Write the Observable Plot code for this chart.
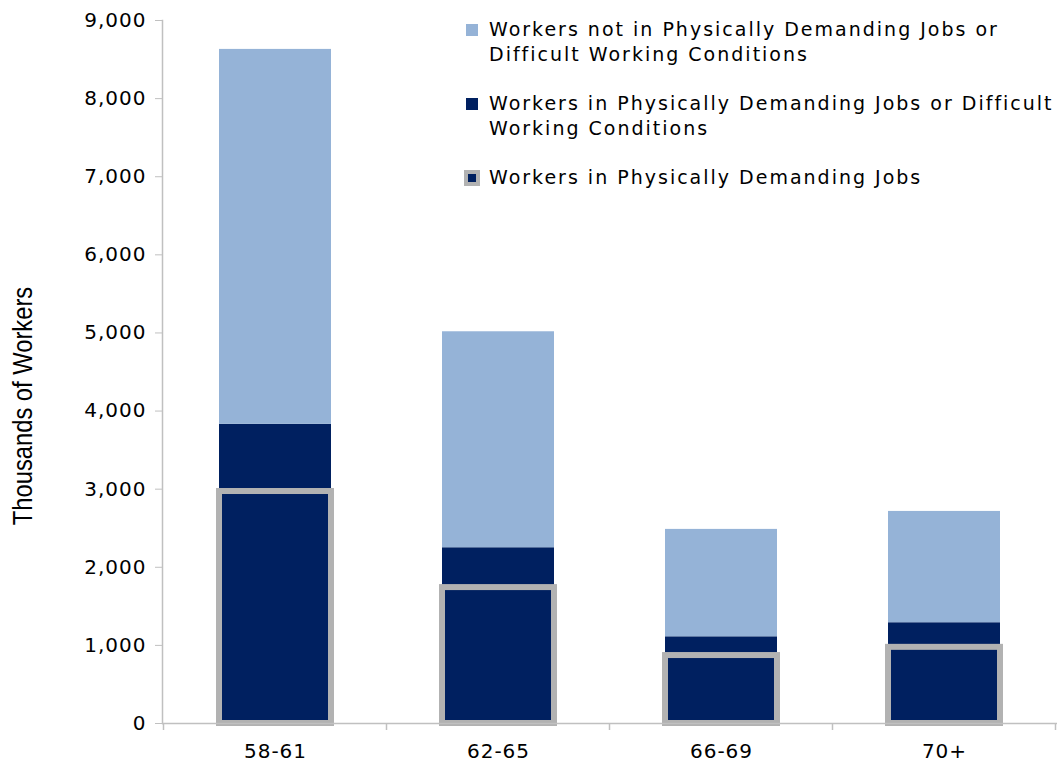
<!DOCTYPE html>
<html>
<head>
<meta charset="utf-8">
<script src="https://cdn.jsdelivr.net/npm/d3@7"></script>
<script src="https://cdn.jsdelivr.net/npm/@observablehq/plot@0.6"></script>
<style>
  body { margin: 0; background: #fff; }
  #wrap { position: relative; width: 1057px; height: 765px; overflow: hidden; }
  #legend { position: absolute; left: 466px; top: 17px; font-family: "DejaVu Sans", Verdana, sans-serif; font-size: 19px; letter-spacing: 2px; color: #000; line-height: 25px; white-space: nowrap; }
  .item { position: relative; padding-left: 23px; margin-bottom: 24px; }
  .sw { position: absolute; left: 0; top: 7px; width: 12px; height: 12px; }
  .sw.outline { left: -2px; top: 5px; width: 8px; height: 8px; border: 4px solid #b2b2b2; }
</style>
</head>
<body>
<div id="wrap"><div id="legend"></div></div>
<script>
const categories = ["58-61", "62-65", "66-69", "70+"];
const notDemanding = [4800, 2765, 1375, 1425];
const demandingOrDifficult = [3830, 2250, 1110, 1290];
const physicallyDemanding = [2970, 1740, 870, 975];
const seriesNames = [
  "Workers not in Physically Demanding Jobs or Difficult Working Conditions",
  "Workers in Physically Demanding Jobs or Difficult Working Conditions",
  "Workers in Physically Demanding Jobs"
];
const legendLines = [
  ["Workers not in Physically Demanding Jobs or", "Difficult Working Conditions"],
  ["Workers in Physically Demanding Jobs or Difficult", "Working Conditions"],
  ["Workers in Physically Demanding Jobs"]
];
const yTicks = [0, 1000, 2000, 3000, 4000, 5000, 6000, 7000, 8000, 9000];
const yTitle = "Thousands of Workers";
const colors = ["#95b3d7", "#002060", "#002060"];

const stacked = [];
categories.forEach((c, i) => {
  stacked.push({cat: c, series: seriesNames[1], value: demandingOrDifficult[i]});
  stacked.push({cat: c, series: seriesNames[0], value: notDemanding[i]});
});
const phys = categories.map((c, i) => ({cat: c, value: physicallyDemanding[i]}));

const bandTicks = (index, scales, values, dims) => {
  const x = scales.x;
  const step = x.step(), bw = x.bandwidth();
  const g = d3.create("svg:g");
  const xs = categories.map(c => x(c) - (step - bw) / 2);
  xs.push(x(categories[categories.length - 1]) + bw + (step - bw) / 2);
  const y0 = dims.height - dims.marginBottom;
  for (const px of xs) {
    g.append("line").attr("x1", px).attr("x2", px).attr("y1", y0).attr("y2", y0 + 7)
      .attr("stroke", "#c0c0c0").attr("stroke-width", 1.5);
  }
  return g.node();
};

const chart = Plot.plot({
  width: 1057,
  height: 765,
  marginLeft: 162,
  marginRight: 0,
  marginTop: 20,
  marginBottom: 42,
  style: {fontFamily: "DejaVu Sans, Verdana, sans-serif", fontSize: "20px", letterSpacing: "1px", color: "#000", background: "#fff"},
  x: {domain: categories, paddingInner: 0.5, paddingOuter: 0.25, label: null},
  y: {domain: [0, 9000], label: null},
  color: {domain: seriesNames.slice(0, 2), range: colors.slice(0, 2)},
  marks: [
    Plot.barY(stacked, {x: "cat", y: "value", fill: "series", order: [seriesNames[1], seriesNames[0]]}),
    Plot.barY(phys, {x: "cat", y: "value", fill: colors[2], stroke: "#b2b2b2", strokeWidth: 6}),
    Plot.frame({anchor: "left", stroke: "#c0c0c0", strokeWidth: 1.5}),
    Plot.ruleY([0], {stroke: "#c0c0c0", strokeWidth: 1.5}),
    bandTicks,
    Plot.axisY({ticks: yTicks, tickFormat: d3.format(","), tickSize: 7, tickPadding: 9, stroke: "#c0c0c0", fill: "#000", label: null}),
    Plot.axisX({tickSize: 0, tickPadding: 20, fill: "#000", label: null}),
    Plot.text([yTitle], {frameAnchor: "left", dx: -139, dy: 34, rotate: -90, textAnchor: "middle", fontSize: 27, fontFamily: "Liberation Sans, Arial, sans-serif", fill: "#000"})
  ]
});
document.getElementById("wrap").prepend(chart);

d3.select(chart).selectAll("text").filter(function () { return this.textContent === yTitle; })
  .attr("letter-spacing", 0)
  .each(function () {
    const t = this.getAttribute("transform") || "";
    this.setAttribute("transform", t + " scale(0.88,1)");
  });

const legend = d3.select("#legend");
legendLines.forEach((lines, i) => {
  const item = legend.append("div").attr("class", "item");
  item.append("div").attr("class", i === 2 ? "sw outline" : "sw").style("background", colors[i]);
  item.append("div").html(lines.join("<br>"));
});
</script>
</body>
</html>
